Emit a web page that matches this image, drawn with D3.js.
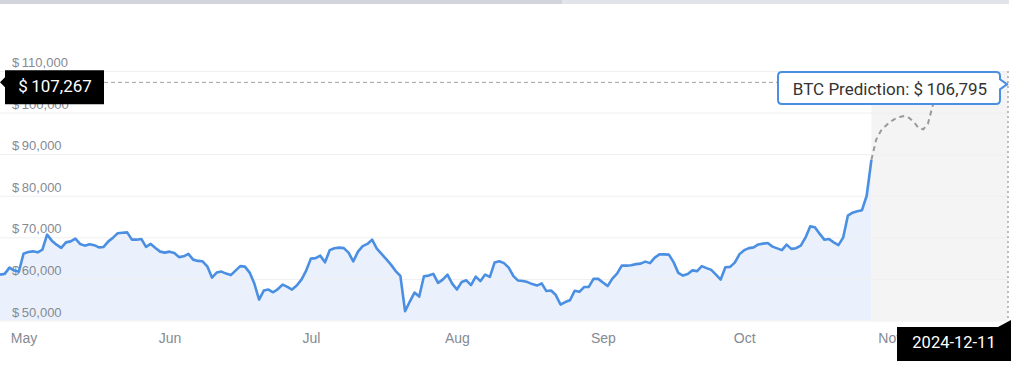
<!DOCTYPE html>
<html>
<head>
<meta charset="utf-8">
<script src="https://cdn.jsdelivr.net/npm/d3@7"></script>
<style>
  html, body { margin: 0; padding: 0; background: #fff; }
  svg { display: block; font-family: Roboto, "Noto Sans", sans-serif; }
  .grid line { stroke: #efefef; }
  .grid .domain { display: none; }
  .grid text { fill: #858a93; font-size: 13px; }
  .x-axis .domain, .x-axis line { display: none; }
  .x-axis text { fill: #858a93; font-size: 14px; }
</style>
</head>
<body>
<div id="chart"></div>
<script>
// daily closes, starting at startDate
var startDate = "2024-05-11";
var historyPrices = [
  61040, 61210, 62720, 62000, 61760, 66080, 66490, 66630, 66390, 67040,
  70640, 69200, 68240, 67450, 68790, 69030, 69680, 68410, 68000, 68360,
  68120, 67590, 67690, 69030, 69920, 71000, 71120, 71190, 69440, 69440,
  69610, 67690, 68410, 67450, 66560, 66320, 66560, 66250, 65240, 65430,
  66010, 64640, 64330, 64230, 63030, 60320, 61520, 61760, 61280, 60920,
  62000, 63080, 62960, 61520, 58880, 55040, 57200, 57440, 56790, 57560,
  58640, 58090, 57440, 58400, 59840, 62000, 64880, 65000, 65600, 63990,
  66920, 67380, 67520, 67400, 66320, 64230, 66560, 67880, 68410, 69440,
  67280, 66010, 64760, 63440, 61880, 60730, 52230, 54560, 56720, 55760,
  60630, 60800, 61210, 59050, 59840, 61040, 58880, 57440, 59240, 59670,
  58520, 60560, 59480, 61040, 60490, 63920, 64230, 63800, 62720, 60680,
  59600, 59480, 59240, 58760, 58400, 58930, 57080, 57200, 56120, 53840,
  54440, 54870, 57130, 56890, 58040, 58090, 60010, 60010, 59120, 58280,
  60080, 61280, 63200, 63200, 63300, 63560, 63680, 64160, 63800, 65120,
  65910, 65910, 65840, 64040, 61450, 60800, 61160, 62050, 61880, 63080,
  62600, 62170, 61040, 59840, 62790, 62890, 63920, 65960, 66920, 67400,
  67590, 68290, 68480, 68620, 67760, 67350, 66920, 68240, 67230, 67380,
  68000, 69920, 72630, 72440, 70880, 69440, 69610, 68790, 68120, 69920,
  75200, 75920, 76280, 76520, 80000, 88640
];
var forecastDates = [
  "2024-11-12", "2024-11-13", "2024-11-14", "2024-11-15", "2024-11-16",
  "2024-11-17", "2024-11-18", "2024-11-19", "2024-11-20", "2024-11-21",
  "2024-11-22", "2024-11-23", "2024-11-24", "2024-11-25", "2024-11-26",
  "2024-12-01", "2024-12-11"
];
var forecastPrices = [
  88640, 93440, 95600, 96800, 97760, 98480, 98960, 99200, 98720, 97760,
  96320, 95960, 97280, 101600, 104240, 104900, 106795
];
var monthTicks = ["2024-05-16", "2024-06-16", "2024-07-16", "2024-08-16", "2024-09-16", "2024-10-16", "2024-11-16"];
var yTicks = [50000, 60000, 70000, 80000, 90000, 100000, 110000];
var endDate = "2024-12-11";
var crosshairPrice = 107267;
var crosshairDate = "2024-12-11";
var predictionPrice = 106795;

var width = 1024;
var height = 368;
var plotRight = 1008;
var plotTop = 71;
var plotBottom = 320.5;

var parseDate = d3.timeParse("%Y-%m-%d");
var money = d3.format(",");
var dollar = function (v) { return "$\u2009" + money(v); };

var start = parseDate(startDate);
var historyData = historyPrices.map(function (v, i) {
    return { date: d3.timeDay.offset(start, i), value: v };
});
var forecastData = forecastDates.map(function (d, i) {
    return { date: parseDate(d), value: forecastPrices[i] };
});

var x = d3.scaleTime()
    .domain([start, parseDate(endDate)])
    .range([0, plotRight]);
var y = d3.scaleLinear()
    .domain([50000, 110000])
    .range([plotBottom, plotTop]);

var svg = d3.select("#chart").append("svg")
    .attr("width", width)
    .attr("height", height);

// scroll bar at the top
svg.append("rect").attr("x", 0).attr("y", 0).attr("width", 562).attr("height", 4).attr("fill", "#d3d4db");
svg.append("rect").attr("x", 562).attr("y", 0).attr("width", 447).attr("height", 4).attr("fill", "#e3e4e9");

// prediction zone
var lastHistory = historyData[historyData.length - 1].date;
svg.append("rect")
    .attr("x", x(lastHistory))
    .attr("y", plotTop)
    .attr("width", plotRight - x(lastHistory))
    .attr("height", plotBottom - plotTop)
    .attr("fill", "#f4f4f4");

var area = d3.area()
    .x(function (d) { return x(d.date); })
    .y0(plotBottom)
    .y1(function (d) { return y(d.value); });
svg.append("path")
    .datum(historyData)
    .attr("d", area)
    .attr("fill", "#eaf1fc");

// gridlines + y labels
var yAxis = svg.append("g")
    .attr("class", "grid")
    .call(d3.axisRight(y).tickValues(yTicks).tickSize(plotRight).tickFormat(dollar));
yAxis.selectAll("text")
    .attr("x", 12)
    .attr("y", -4.5)
    .attr("dy", 0)
    .attr("text-anchor", "start");

var line = d3.line()
    .x(function (d) { return x(d.date); })
    .y(function (d) { return y(d.value); });
svg.append("path")
    .datum(historyData)
    .attr("d", line)
    .attr("fill", "none")
    .attr("stroke", "#4a8fe2")
    .attr("stroke-width", 2.6)
    .attr("stroke-linejoin", "round");
svg.append("path")
    .datum(forecastData)
    .attr("d", line)
    .attr("fill", "none")
    .attr("stroke", "#9a9a9a")
    .attr("stroke-width", 2)
    .attr("stroke-dasharray", "5,4");

// x labels
var xAxis = svg.append("g")
    .attr("class", "x-axis")
    .attr("transform", "translate(0," + plotBottom + ")")
    .call(d3.axisBottom(x).tickValues(monthTicks.map(parseDate)).tickSize(0).tickFormat(d3.timeFormat("%b")));
xAxis.selectAll("text").attr("y", 22.5).attr("dy", 0);

// crosshair
var cx = x(parseDate(crosshairDate));
var cy = y(crosshairPrice);
svg.append("line")
    .attr("x1", 104).attr("x2", cx)
    .attr("y1", cy).attr("y2", cy)
    .attr("stroke", "#a0a0a0")
    .attr("stroke-dasharray", "4,3");
svg.append("line")
    .attr("x1", cx).attr("x2", cx)
    .attr("y1", plotTop).attr("y2", plotBottom)
    .attr("stroke", "#a8a8a8")
    .attr("stroke-width", 1.5)
    .attr("stroke-dasharray", "2,3");

// price tag on the left
svg.append("path")
    .attr("d", "M5," + (cy - 12) + "H104V" + (cy + 22) + "H5V" + (cy + 5) + "L0," + cy + "L5," + (cy - 5) + "Z")
    .attr("fill", "#000");
svg.append("text")
    .attr("x", 55)
    .attr("y", cy + 9.5)
    .attr("text-anchor", "middle")
    .attr("fill", "#fff")
    .attr("font-size", 17)
    .text(dollar(crosshairPrice));

// prediction tooltip
var py = y(predictionPrice);
svg.append("path")
    .attr("d", "M782,72H996Q1000,72 1000,76V" + (py - 5) + "L" + (cx - 1) + "," + py + "L1000," + (py + 5) +
        "V100Q1000,104 996,104H782Q778,104 778,100V76Q778,72 782,72Z")
    .attr("fill", "#fff")
    .attr("fill-opacity", 0.96)
    .attr("stroke", "#4a8fe2")
    .attr("stroke-width", 2);
svg.append("text")
    .attr("x", 890)
    .attr("y", 94.5)
    .attr("text-anchor", "middle")
    .attr("fill", "#333")
    .attr("font-size", 17)
    .text("BTC Prediction: " + dollar(predictionPrice));

// date tag at the bottom
svg.append("path")
    .attr("d", "M897,327H998L1011,320V361H897Z")
    .attr("fill", "#000");
svg.append("text")
    .attr("x", 954)
    .attr("y", 348)
    .attr("text-anchor", "middle")
    .attr("fill", "#fff")
    .attr("font-size", 16.5)
    .text(crosshairDate);
</script>
</body>
</html>
